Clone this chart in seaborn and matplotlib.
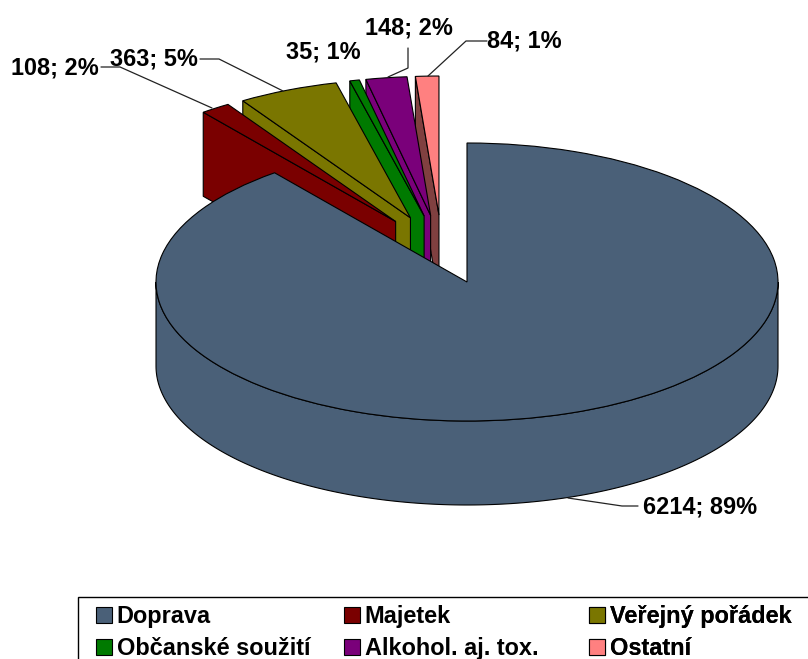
import numpy as np
import matplotlib
matplotlib.use("Agg")
import matplotlib.pyplot as plt
from matplotlib.patches import Rectangle
import seaborn as sns

categories = ["Doprava", "Majetek", "Veřejný pořádek", "Občanské soužití", "Alkohol. aj. tox.", "Ostatní"]
values = [6214, 108, 363, 35, 148, 84]
colors = ["#4A6078", "#7A0000", "#7A7600", "#007A00", "#7A007A", "#FF8080"]
side_colors = ["#4A6078", "#7A0000", "#7A7600", "#007A00", "#7A007A", "#804040"]

sns.set_theme(style="white")
plt.rcParams["font.family"] = ["Liberation Sans", "DejaVu Sans"]
FS = 16.9

W, H = 808, 659
CX, CY, RX, RY, DEPTH = 467, 282, 311, 139, 84


def px(x, y):
    return (x - CX) / RX, (CY - y) / RY


fig = plt.figure(figsize=(W / 100, H / 100), dpi=100)
ax = fig.add_axes([0, 0, 1, 1])

wedges, _ = ax.pie(values, colors=colors, startangle=90, counterclock=False,
                   wedgeprops=dict(edgecolor="black", linewidth=0.8))
ax.set_aspect("auto")
ax.set_xlim(px(0, 0)[0], px(W, 0)[0])
ax.set_ylim(px(0, H)[1], px(0, 0)[1])
ax.axis("off")

depth = DEPTH / RY
bounds = np.radians(np.cumsum([0] + values) / sum(values) * 360)

# small slices are pulled out, drawn from the back one forward
z = 1
for i in range(len(values) - 1, 0, -1):
    t0, t1 = bounds[i], bounds[i + 1]
    mid = (t0 + t1) / 2
    ox = (-25 + 80 * np.sin(mid)) / RX
    oy = (32 + 35 * np.cos(mid)) / RY
    wedges[i].set_center((ox, oy))
    ex, ey = ox + np.sin(t0), oy + np.cos(t0)
    ax.fill([ox, ex, ex, ox], [oy, ey, ey - depth, oy - depth],
            facecolor=side_colors[i], edgecolor="black", linewidth=0.8, zorder=z)
    wedges[i].set_zorder(z + 1)
    z += 2

# front wall of the big slice
t = np.radians(np.linspace(90, 270, 200))
ax.fill(np.r_[np.sin(t), np.sin(t[::-1])], np.r_[np.cos(t), np.cos(t[::-1]) - depth],
        facecolor=side_colors[0], edgecolor="black", linewidth=0.8, zorder=z)
wedges[0].set_zorder(z + 1)

# labels and leader lines
total = sum(values)
label_pos = [(643, 507), (11, 68), (110, 59), (286, 52), (365, 28), (487, 41)]
leaders = [
    [(638, 506), (622, 506), (568, 498)],
    [(101, 67), (120, 67), (212, 108)],
    [(200, 59), (219, 59), (283, 91)],
    None,
    [(408, 48), (408, 68), (388, 77)],
    [(487, 41), (466, 41), (428, 76)],
]
for v, pos, line in zip(values, label_pos, leaders):
    ax.text(*px(*pos), f"{v}; {round(v / total * 100)}%", fontsize=FS, fontweight="bold",
            color="black", ha="left", va="center", zorder=40)
    if line:
        xs, ys = zip(*[px(*p) for p in line])
        ax.plot(xs, ys, color="#222222", lw=0.9, zorder=39)

# legend box runs past the right and bottom edge
ax.add_patch(Rectangle(px(78, 597), (W + 10 - 78) / RX, -(H + 10 - 597) / RY, facecolor="white",
                       edgecolor="black", linewidth=1.0, zorder=45, clip_on=False))

# one legend per column so the columns sit at fixed places
columns = [(96, [0, 3]), (344, [1, 4]), (589, [2, 5])]
for x, idx in columns:
    leg = ax.legend([wedges[i] for i in idx], [categories[i] for i in idx],
                    loc="upper left", bbox_to_anchor=(x / W, 1 - 605 / H), bbox_transform=fig.transFigure,
                    prop=dict(size=FS, weight="bold"), labelcolor="black", frameon=False,
                    borderaxespad=0, borderpad=0, handlelength=0.68, handleheight=0.68,
                    handletextpad=0.2, labelspacing=0.38)
    leg.set_zorder(50)
    ax.add_artist(leg)

fig.savefig("out.png", dpi=100, facecolor="white")
